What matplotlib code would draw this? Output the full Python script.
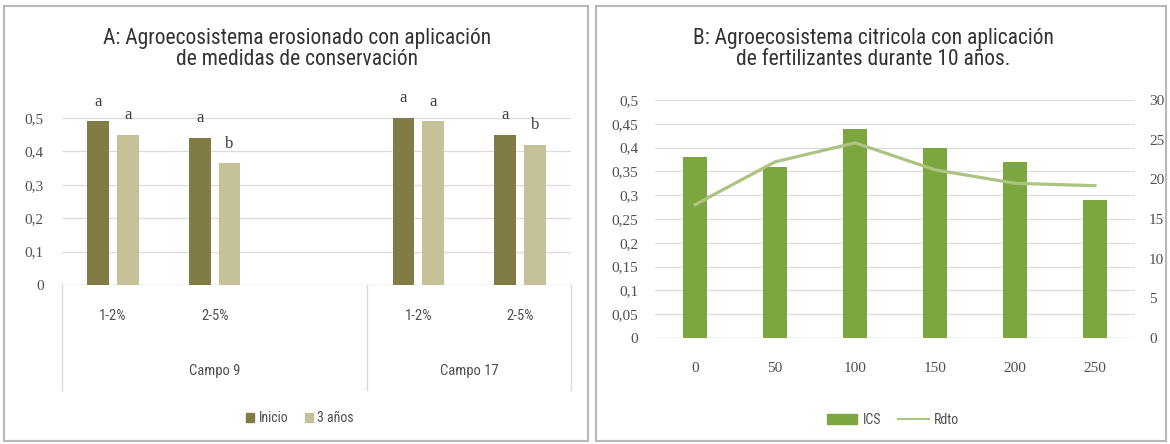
import numpy as np
import matplotlib
matplotlib.use("Agg")
import matplotlib.pyplot as plt
import matplotlib.transforms as mtransforms
from matplotlib.patches import Rectangle, Patch
from matplotlib.lines import Line2D
from matplotlib import font_manager

# ---------------- data ----------------
# Panel A
a_title = "A: Agroecosistema erosionado con aplicación\nde medidas de conservación"
a_categories = ["1-2%", "2-5%", "", "1-2%", "2-5%"]
a_groups = ["Campo 9", "Campo 17"]
a_group_members = [3, 2]  # number of category slots in each group
a_inicio = [0.49, 0.44, np.nan, 0.50, 0.45]
a_tres = [0.45, 0.365, np.nan, 0.49, 0.42]
a_letters_inicio = ["a", "a", "", "a", "a"]
a_letters_tres = ["a", "b", "", "a", "b"]
a_series_names = ["Inicio", "3 años"]
a_yticks = [0, 0.1, 0.2, 0.3, 0.4, 0.5]
a_yticklabels = ["0", "0,1", "0,2", "0,3", "0,4", "0,5"]

# Panel B
b_title = "B: Agroecosistema citricola con aplicación\nde fertilizantes durante 10 años."
b_categories = ["0", "50", "100", "150", "200", "250"]
b_ics = [0.38, 0.36, 0.44, 0.40, 0.37, 0.29]
b_rdto = [16.8, 22.2, 24.6, 21.2, 19.5, 19.2]
b_series_names = ["ICS", "Rdto"]
b_yticks = [0, 0.05, 0.1, 0.15, 0.2, 0.25, 0.3, 0.35, 0.4, 0.45, 0.5]
b_yticklabels = ["0", "0,05", "0,1", "0,15", "0,2", "0,25", "0,3", "0,35", "0,4", "0,45", "0,5"]
b_y2ticks = [0, 5, 10, 15, 20, 25, 30]

# ---------------- style ----------------
avail = {f.name for f in font_manager.fontManager.ttflist}
def pick(*names):
    for n in names:
        if n in avail:
            return n
    return "DejaVu Sans"

TITLE_FONT = pick("Liberation Sans Narrow", "Roboto Condensed", "DejaVu Sans")
TICK_FONT = pick("Liberation Sans Narrow", "Roboto Condensed", "Open Sans", "DejaVu Sans")
SERIF = pick("Liberation Serif", "DejaVu Serif")

C_INICIO = "#817b45"
C_TRES = "#c6c298"
C_ICS = "#7ba640"
C_RDTO = "#abc47f"
GRID = "#dcdcdc"
TXT = "#505050"

W, H = 1170, 444
fig = plt.figure(figsize=(W / 100, H / 100), dpi=100)

def fx(px):
    return px / W
def fy(py):
    return 1 - py / H

# panel frames
for (x0, x1) in [(4, 588), (596, 1166)]:
    fig.patches.append(Rectangle((fx(x0), fy(441)), fx(x1 - x0), (441 - 6) / H,
                                 transform=fig.transFigure, fill=False,
                                 edgecolor="#b8b8b8", linewidth=1.5))

title_size = 15.5
num_size = 11
cat_size = 10.5
leg_size = 10

# ---------------- Panel A ----------------
axA = fig.add_axes([fx(62), fy(285), fx(571 - 62), (285 - 84.4) / H])
n = len(a_categories)
x = np.arange(n)
bw = 0.215
off = 0.145
axA.bar(x - off, a_inicio, bw, color=C_INICIO, zorder=3)
axA.bar(x + off, a_tres, bw, color=C_TRES, zorder=3)
for xi, v, l in zip(x, a_inicio, a_letters_inicio):
    if l:
        axA.annotate(l, (xi - off, v), xytext=(0, 14), textcoords="offset points",
                     ha="center", va="center", fontsize=12, family=SERIF, color="#404040")
for xi, v, l in zip(x, a_tres, a_letters_tres):
    if l:
        axA.annotate(l, (xi + off, v), xytext=(0, 14), textcoords="offset points",
                     ha="center", va="center", fontsize=12, family=SERIF, color="#404040")
axA.set_xlim(-0.5, n - 0.5)
axA.set_ylim(0, 0.6)
axA.set_yticks(a_yticks)
axA.set_yticklabels(a_yticklabels, fontsize=num_size, family=SERIF, color=TXT)
axA.tick_params(axis="y", length=0, pad=13)
axA.set_xticks([])
for yv in a_yticks[1:]:
    axA.axhline(yv, color=GRID, lw=0.9, zorder=1)
for s in axA.spines.values():
    s.set_visible(False)
axA.axhline(0, color="#cfcfcf", lw=1.0, zorder=2)
axA.patch.set_alpha(0)

# multi-level category labels
blend = mtransforms.blended_transform_factory(axA.transData, fig.transFigure)
for xi, c in zip(x, a_categories):
    if c:
        axA.text(xi, fy(316), c, transform=blend, ha="center", va="center",
                 fontsize=cat_size, family=TICK_FONT, color=TXT)
bounds = np.concatenate([[0], np.cumsum(a_group_members)]) - 0.5
for b in bounds:
    axA.add_line(Line2D([b, b], [fy(285), fy(390)], transform=blend, color="#dadada",
                        lw=1.0, clip_on=False))
for g, b0, b1 in zip(a_groups, bounds[:-1], bounds[1:]):
    axA.text((b0 + b1) / 2, fy(371), g, transform=blend, ha="center", va="center",
             fontsize=cat_size, family=TICK_FONT, color=TXT)

fig.text(fx(297), fy(49), a_title, ha="center", va="center", fontsize=title_size,
         family=TITLE_FONT, color="#333333", linespacing=1.05)

handlesA = [Patch(color=C_INICIO), Patch(color=C_TRES)]
fig.legend(handlesA, a_series_names, loc="center", bbox_to_anchor=(fx(300), fy(418)),
           ncol=2, frameon=False, handlelength=0.6, handleheight=0.6,
           handletextpad=0.3, columnspacing=1.2, prop={"family": TICK_FONT, "size": leg_size},
           labelcolor=TXT)

# ---------------- Panel B ----------------
axB = fig.add_axes([fx(655), fy(338), fx(1135 - 655), (338 - 100) / H])
xb = np.arange(len(b_categories))
axB.bar(xb, b_ics, 0.31, color=C_ICS, zorder=3)
axB.set_xlim(-0.5, len(b_categories) - 0.5)
axB.set_ylim(0, 0.5)
axB.set_yticks(b_yticks)
axB.set_yticklabels(b_yticklabels, fontsize=num_size, family=SERIF, color=TXT)
axB.set_xticks(xb)
axB.set_xticklabels(b_categories, fontsize=num_size, family=SERIF, color=TXT)
axB.tick_params(axis="y", length=0, pad=12)
axB.tick_params(axis="x", length=0, pad=17)
for yv in b_yticks[1:]:
    axB.axhline(yv, color=GRID, lw=0.9, zorder=1)
for s in axB.spines.values():
    s.set_visible(False)
axB.axhline(0, color="#cfcfcf", lw=1.0, zorder=2)

axB2 = axB.twinx()
axB2.plot(xb, b_rdto, color=C_RDTO, lw=2.3, zorder=4)
axB2.set_ylim(0, 30)
axB2.set_yticks(b_y2ticks)
axB2.set_yticklabels([str(t) for t in b_y2ticks], fontsize=num_size, family=SERIF, color=TXT)
axB2.tick_params(axis="y", length=0, pad=10)
for s in axB2.spines.values():
    s.set_visible(False)

fig.text(fx(873), fy(49), b_title, ha="center", va="center", fontsize=title_size,
         family=TITLE_FONT, color="#333333", linespacing=1.05)

handlesB = [Patch(color=C_ICS), Line2D([], [], color=C_RDTO, lw=1.5)]
fig.legend(handlesB, b_series_names, loc="center", bbox_to_anchor=(fx(893), fy(420)),
           ncol=2, frameon=False, handlelength=2.2, handleheight=0.8,
           handletextpad=0.4, columnspacing=1.2, prop={"family": TICK_FONT, "size": leg_size},
           labelcolor=TXT)

fig.savefig("out.png", dpi=100, facecolor="white")
